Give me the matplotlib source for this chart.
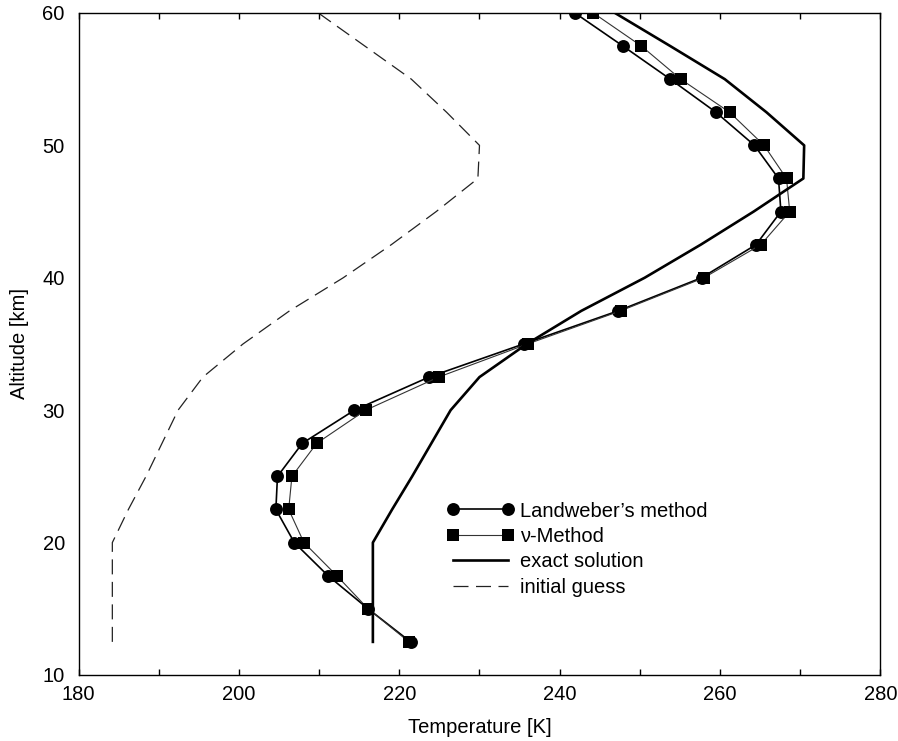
import matplotlib.pyplot as plt

plt.rcParams["font.family"] = ["Liberation Sans", "DejaVu Sans"]

# altitude grid [km]
altitude = [12.5, 15, 17.5, 20, 22.5, 25, 27.5, 30, 32.5, 35,
            37.5, 40, 42.5, 45, 47.5, 50, 52.5, 55, 57.5, 60]

# temperatures [K]
landweber = [221.4, 216.1, 211.1, 206.9, 204.6, 204.8, 207.9, 214.4, 223.7, 235.5,
             247.3, 257.7, 264.5, 267.6, 267.3, 264.3, 259.5, 253.8, 247.9, 241.9]
nu_method = [221.2, 216.1, 212.2, 208.1, 206.2, 206.6, 209.7, 215.8, 224.9, 236.0,
             247.6, 258.0, 265.1, 268.7, 268.3, 265.5, 261.2, 255.1, 250.2, 244.2]
exact = [216.7, 216.7, 216.7, 216.7, 219.1, 221.6, 224.0, 226.4, 230.0, 235.9,
         242.7, 250.6, 257.6, 264.2, 270.4, 270.5, 265.8, 260.6, 253.8, 246.9]
initial = [184.2, 184.2, 184.2, 184.2, 186.2, 188.4, 190.4, 192.4, 195.5, 200.5,
           206.3, 213.0, 219.0, 224.6, 229.8, 230.0, 225.9, 221.5, 215.7, 209.9]

fig = plt.figure(figsize=(8.98, 7.41), dpi=100)
ax = fig.add_axes([0.0876, 0.0891, 0.8927, 0.8934])

ax.plot(landweber, altitude, color="black", lw=1.2, marker="o", ms=9.3,
        mew=0, label="Landweber\u2019s method")
ax.plot(nu_method, altitude, color="#333333", lw=0.8, marker="s", ms=8.2,
        mew=0, mfc="black", label="\u03bd-Method")
ax.plot(exact, altitude, color="black", lw=1.9, label="exact solution")
ax.plot(initial, altitude, color="#222222", lw=0.9, dashes=(12, 6),
        label="initial guess")

ax.set_xlim(180, 280)
ax.set_ylim(10, 60)
ax.set_xticks(range(180, 281, 20))
ax.set_xticks(range(190, 281, 20), minor=True)
ax.set_yticks(range(10, 61, 10))
ax.tick_params(axis="x", which="both", direction="in", top=True, length=4,
               width=1, labelsize=14.5, pad=7)
ax.tick_params(axis="y", length=0, labelsize=14.5, pad=10)
for s in ax.spines.values():
    s.set_linewidth(1.0)

ax.set_xlabel("Temperature [K]", fontsize=14.5, labelpad=10)
ax.set_ylabel("Altitude [km]", fontsize=14.5, labelpad=10)

ax.legend(loc="upper left", bbox_to_anchor=(0.4596, 0.262), frameon=False,
          fontsize=14.5, numpoints=2, handlelength=3.3, handletextpad=0.3,
          labelspacing=0.32, borderpad=0, borderaxespad=0)

plt.savefig("out.png", dpi=100)
plt.close()
